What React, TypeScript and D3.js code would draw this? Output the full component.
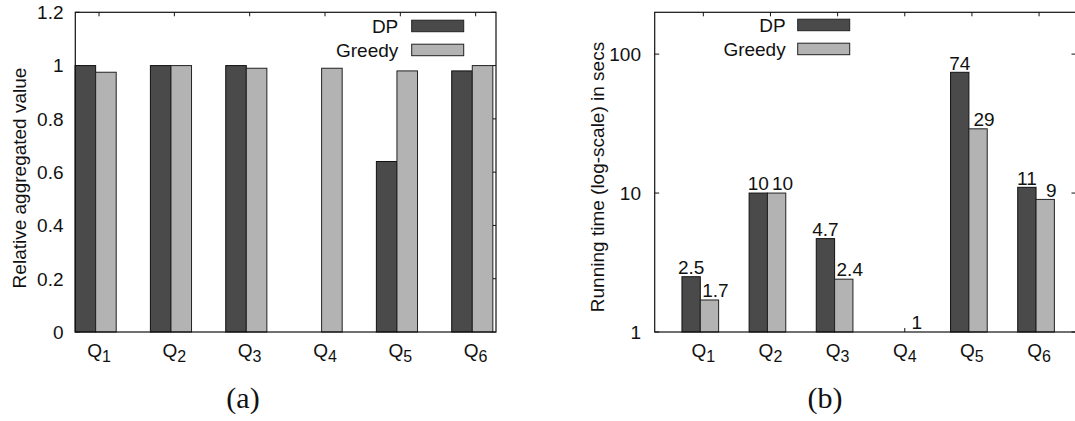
import React from "react";
import * as d3 from "d3";

// data
const categories = ["Q1", "Q2", "Q3", "Q4", "Q5", "Q6"];
const series = ["DP", "Greedy"];
const dpRelative = [1, 1, 1, 0, 0.64, 0.98];
const greedyRelative = [0.975, 1, 0.99, 0.99, 0.98, 1];
const dpTime: (number | null)[] = [2.5, 10, 4.7, null, 74, 11];
const greedyTime = [1.7, 10, 2.4, 1, 29, 9];
const relTicks = [0, 0.2, 0.4, 0.6, 0.8, 1, 1.2];
const timeTicks = [1, 10, 100];

const W = 1075;
const H = 421;
const FONT = "'Liberation Sans', Arial, Helvetica, sans-serif";
const SERIF = "'Liberation Serif', 'Times New Roman', serif";
const DARK = "#4a4a4a";
const LIGHT = "#b3b3b3";
const INK = "#111";
const FS = 19;

const barW = 0.273;
const split = -0.045; // DP | Greedy boundary relative to category tick

const top = 12.3;
const bottom = 332;

function QLabel({ x, y, name }: { x: number; y: number; name: string }) {
  return (
    <text x={x} y={y} textAnchor="middle" fontFamily={FONT} fontSize={FS} fill={INK}>
      {name[0]}
      <tspan fontSize={16} dy={5}>{name.slice(1)}</tspan>
    </text>
  );
}

function Legend({ textRight, swatchX, y0 }: { textRight: number; swatchX: number; y0: number }) {
  const colors = [DARK, LIGHT];
  return (
    <g>
      {series.map((s, i) => (
        <g key={s}>
          <text x={textRight} y={y0 + i * 24} textAnchor="end" fontFamily={FONT} fontSize={FS} fill={INK}>
            {s}
          </text>
          <rect x={swatchX} y={y0 - 12.5 + i * 24} width={52} height={11.5} fill={colors[i]} stroke="#222" strokeWidth={1} />
        </g>
      ))}
    </g>
  );
}

function PanelA() {
  const x = d3.scaleLinear().domain([-0.315, 5.27]).range([75.3, 496]);
  const y = d3.scaleLinear().domain([0, 1.2]).range([bottom, top]);
  const x0 = x.range()[0];
  const x1 = x.range()[1];
  return (
    <g>
      {/* ticks */}
      {relTicks.map((t) => (
        <g key={t}>
          <line x1={x0} x2={x0 + 4.5} y1={y(t)} y2={y(t)} stroke={INK} />
          <line x1={x1} x2={x1 - 4.5} y1={y(t)} y2={y(t)} stroke={INK} />
          <text x={63.5} y={y(t) + 6.8} textAnchor="end" fontFamily={FONT} fontSize={FS} fill={INK}>
            {d3.format("~g")(t)}
          </text>
        </g>
      ))}
      {categories.map((c, i) => (
        <g key={c}>
          <line x1={x(i)} x2={x(i)} y1={top} y2={top + 4} stroke={INK} />
          <line x1={x(i)} x2={x(i)} y1={bottom} y2={bottom - 4} stroke={INK} />
          <QLabel x={x(i)} y={356.5} name={c} />
        </g>
      ))}
      {/* bars */}
      {categories.map((c, i) => (
        <g key={c}>
          <rect
            x={x(i + split - barW)}
            y={y(dpRelative[i])}
            width={x(i + split) - x(i + split - barW)}
            height={y(0) - y(dpRelative[i])}
            fill={DARK}
            stroke="#111"
            strokeWidth={1}
          />
          <rect
            x={x(i + split)}
            y={y(greedyRelative[i])}
            width={x(i + split + barW) - x(i + split)}
            height={y(0) - y(greedyRelative[i])}
            fill={LIGHT}
            stroke="#222"
            strokeWidth={1}
          />
        </g>
      ))}
      <rect x={x0} y={top} width={x1 - x0} height={bottom - top} fill="none" stroke={INK} strokeWidth={1.2} />
      <Legend textRight={398.3} swatchX={411.7} y0={32.7} />
      <text
        transform={`translate(25.5,178) rotate(-90)`}
        textAnchor="middle"
        fontFamily={FONT}
        fontSize={FS}
        fill={INK}
      >
        Relative aggregated value
      </text>
      <text x={243} y={408} textAnchor="middle" fontFamily={SERIF} fontSize={30} fill={INK}>
        (a)
      </text>
    </g>
  );
}

function PanelB() {
  const x = d3.scaleLinear().domain([-0.724, 5.55]).range([654.7, 1076]);
  const y = d3.scaleLog().domain([1, 200]).range([bottom, top]);
  const x0 = x.range()[0];
  const x1 = x.range()[1];
  const dpVal = (v: number | null) => (v == null ? 1 : v);
  return (
    <g>
      {timeTicks.map((t) => (
        <g key={t}>
          <line x1={x0} x2={x0 + 4.5} y1={y(t)} y2={y(t)} stroke={INK} />
          <line x1={x1} x2={x1 - 4.5} y1={y(t)} y2={y(t)} stroke={INK} />
          <text x={641} y={y(t) + 6.8} textAnchor="end" fontFamily={FONT} fontSize={FS} fill={INK}>
            {t}
          </text>
        </g>
      ))}
      {categories.map((c, i) => (
        <g key={c}>
          <line x1={x(i)} x2={x(i)} y1={top} y2={top + 4} stroke={INK} />
          <line x1={x(i)} x2={x(i)} y1={bottom} y2={bottom - 4} stroke={INK} />
          <QLabel x={x(i)} y={356.5} name={c} />
        </g>
      ))}
      {categories.map((c, i) => {
        const dv = dpVal(dpTime[i]);
        const gv = greedyTime[i];
        const dl = x(i + split - barW);
        const gl = x(i + split);
        const gr = x(i + split + barW);
        return (
          <g key={c}>
            <rect x={dl} y={y(dv)} width={gl - dl} height={y(1) - y(dv)} fill={DARK} stroke="#111" strokeWidth={1} />
            <rect x={gl} y={y(gv)} width={gr - gl} height={y(1) - y(gv)} fill={LIGHT} stroke="#222" strokeWidth={1} />
            {dpTime[i] != null && (
              <text x={(dl + gl) / 2} y={y(dv) - 2.7} textAnchor="middle" fontFamily={FONT} fontSize={FS} fill={INK}>
                {dpTime[i]}
              </text>
            )}
            <text x={(gl + gr) / 2 + 6} y={y(gv) - 2.7} textAnchor="middle" fontFamily={FONT} fontSize={FS} fill={INK}>
              {gv}
            </text>
          </g>
        );
      })}
      <rect x={x0} y={top} width={x1 - x0} height={bottom - top} fill="none" stroke={INK} strokeWidth={1.2} />
      <Legend textRight={785.7} swatchX={797.7} y0={31.7} />
      <text
        transform={`translate(604,177) rotate(-90)`}
        textAnchor="middle"
        fontFamily={FONT}
        fontSize={FS}
        fill={INK}
      >
        Running time (log-scale) in secs
      </text>
      <text x={825} y={408} textAnchor="middle" fontFamily={SERIF} fontSize={30} fill={INK}>
        (b)
      </text>
    </g>
  );
}

export default function App() {
  return (
    <svg
      width={W}
      height={H}
      viewBox={`0 0 ${W} ${H}`}
      style={{ position: "absolute", left: 0, top: 0, background: "#fff" }}
    >
      <rect x={0} y={0} width={W} height={H} fill="#fff" />
      <PanelA />
      <PanelB />
    </svg>
  );
}
